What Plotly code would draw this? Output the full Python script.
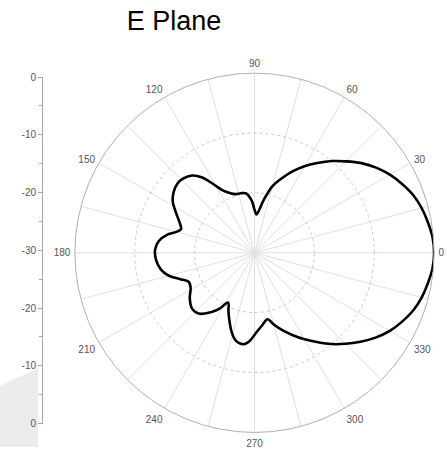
import plotly.graph_objects as go

# E-plane radiation pattern, normalised gain in dB versus angle (degrees)
angles_deg = [0, 5, 10, 15, 20, 25, 30, 35, 40, 45, 50, 55, 60, 65, 70, 75, 80, 84, 87,
              90, 93, 98, 103, 108, 113, 117, 121, 125, 129, 134, 138, 143, 148, 153,
              158, 162, 165, 168, 173, 178, 184, 190, 195, 200, 204, 209, 215, 222, 228,
              234, 238, 242, 246, 250, 254, 258, 263, 267, 271, 276, 281, 285, 290, 295,
              300, 305, 310, 315, 320, 325, 330, 335, 340, 345, 350, 355, 360]
gain_db = [0.0, -0.15, -0.6, -1.1, -1.8, -2.8, -3.9, -5.2, -6.7, -8.4, -10.0, -11.7,
           -13.3, -15.0, -16.8, -18.5, -21.0, -22.9, -23.6, -22.8, -21.3, -20.0, -19.8,
           -19.7, -19.1, -18.3, -16.6, -14.6, -13.4, -12.8, -12.7, -13.1, -13.9, -15.3,
           -16.5, -17.1, -16.5, -15.2, -13.9, -13.4, -13.5, -14.1, -15.2, -17.0, -18.0,
           -17.8, -16.8, -16.0, -16.3, -17.8, -19.0, -20.6, -19.3, -17.8, -16.2, -15.0,
           -14.6, -15.3, -16.6, -17.8, -18.7, -17.6, -16.2, -14.8, -13.3, -11.8, -10.1,
           -8.5, -6.9, -5.3, -3.9, -2.8, -1.8, -1.1, -0.6, -0.15, 0.0]

# angular ticks every 15 degrees, labelled every 30
angle_ticks = list(range(0, 360, 15))
angle_labels = [str(a) if a % 30 == 0 else "" for a in angle_ticks]

# side scale: 0 dB at the rim, -30 dB at the centre, mirrored top/bottom
scale_vals = [-30, -20, -10, 0, 10, 20, 30]
scale_text = ["0", "-10", "-20", "-30", "-20", "-10", "0"]

W, H = 447, 453
FONT = "Liberation Sans, Arial, sans-serif"

fig = go.Figure()

fig.add_trace(go.Scatterpolar(
    r=gain_db, theta=angles_deg, mode="lines",
    line=dict(color="black", width=2.6, shape="spline", smoothing=1.0),
    showlegend=False, hoverinfo="skip",
))

# helper trace so the side scale axis is drawn
fig.add_trace(go.Scatter(
    x=[0], y=[0], mode="markers", marker=dict(opacity=0),
    showlegend=False, hoverinfo="skip",
))

fig.update_layout(
    width=W, height=H,
    margin=dict(l=0, r=0, t=0, b=0),
    paper_bgcolor="white", plot_bgcolor="rgba(0,0,0,0)",
    title=dict(text="E Plane", x=174 / W, xanchor="center", y=1 - 21 / H, yanchor="middle",
               font=dict(family=FONT, size=27, color="black")),
    polar=dict(
        domain=dict(x=[70 / W, 439 / W], y=[15 / H, 384 / H]),
        bgcolor="white",
        radialaxis=dict(range=[-30, 0], tickvals=[-30, -20, -10, 0], showticklabels=False,
                        ticks="", showline=False, gridcolor="#c3c6ec", griddash="dot",
                        gridwidth=1),
        angularaxis=dict(direction="counterclockwise", rotation=0,
                         tickmode="array", tickvals=angle_ticks, ticktext=angle_labels,
                         gridcolor="#e0e0e0", gridwidth=1, showline=True,
                         linecolor="#b0b0b0", linewidth=1,
                         ticks="outside", ticklen=2, tickcolor="rgba(0,0,0,0)",
                         tickfont=dict(family=FONT, size=10, color="#555555")),
    ),
    xaxis=dict(visible=False, domain=[0.2, 0.3], fixedrange=True),
    yaxis=dict(domain=[24 / H, 380 / H], range=[-30, 30], anchor="free", position=42 / W,
               side="left", showline=True, linecolor="#a8a8a8", linewidth=1,
               ticks="outside", ticklen=4, tickcolor="#a8a8a8",
               tickvals=scale_vals, ticktext=scale_text,
               minor=dict(dtick=5, ticks="outside", ticklen=3, tickcolor="#a8a8a8"),
               tickfont=dict(family=FONT, size=10, color="#555555"),
               showgrid=False, zeroline=False, fixedrange=True),
    shapes=[dict(type="path", xref="paper", yref="paper", layer="below",
                 path=f"M 0 {1 - 390 / H} L {38 / W} {1 - 372 / H} L {38 / W} 0 L 0 0 Z",
                 fillcolor="#ececec", line=dict(width=0))],
)

fig.write_html("out.html")
